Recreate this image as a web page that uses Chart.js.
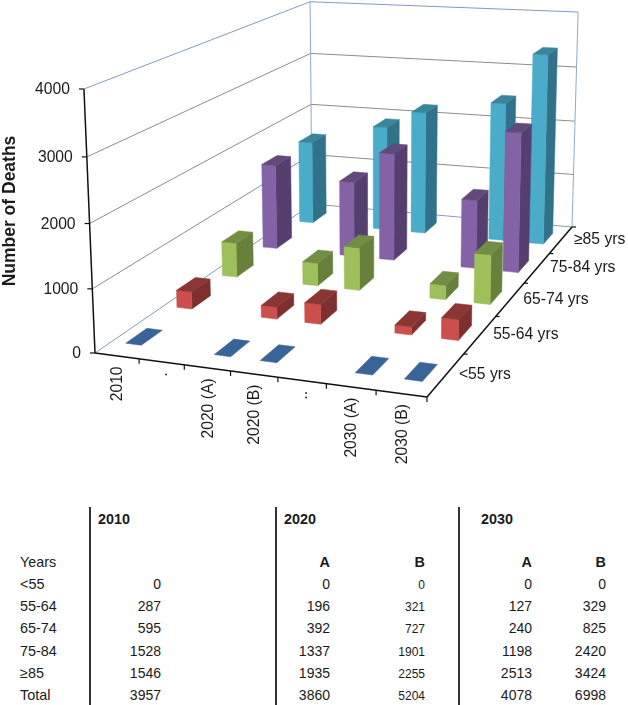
<!DOCTYPE html>
<html>
<head>
<meta charset="utf-8">
<script src="https://cdn.jsdelivr.net/npm/chart.js@4"></script>
<style>
  body { margin: 0; background: #fff; font-family: "Liberation Sans", Arial, sans-serif; color: #1a1a1a; }
  #wrap { position: relative; width: 628px; height: 705px; overflow: hidden; }
  canvas { position: absolute; left: 0; top: 0; }
  .cell { position: absolute; font-size: 14px; line-height: 16px; white-space: nowrap; }
  .rule { position: absolute; top: 507px; width: 2px; height: 198px; background: #333; }
</style>
</head>
<body>
<div id="wrap"><canvas id="myChart" width="628" height="490"></canvas></div>
<script>
// chart data
const categories = ['2010', '.', '2020 (A)', '2020 (B)', '..', '2030 (A)', '2030 (B)'];
const ageGroups = ['<55 yrs', '55-64 yrs', '65-74 yrs', '75-84 yrs', '≥85 yrs'];
const under55 = [0, null, 0, 0, null, 0, 0];
const age55to64 = [287, null, 196, 321, null, 127, 329];
const age65to74 = [595, null, 392, 727, null, 240, 825];
const age75to84 = [1528, null, 1337, 1901, null, 1198, 2420];
const age85plus = [1546, null, 1935, 2255, null, 2513, 3424];
const totals = [3957, null, 3860, 5204, null, 4078, 6998];
const tableRows = ['<55', '55-64', '65-74', '75-84', '≥85', 'Total'];

// front, side, top colours per series
const faceColors = [
  ['#4F81BD', '#2F5280', '#3A6497'],
  ['#CC4F4E', '#7D302E', '#8C3634'],
  ['#9EC05A', '#67803B', '#728E45'],
  ['#8363A5', '#553F6E', '#604A7B'],
  ['#4AACC8', '#31728A', '#38859C']
];

// floor corners and wall height in canvas pixels
const floorFL = [95, 353], floorFR = [427, 397], floorBR = [572, 227], floorBL = [312, 204];
const vanish = [377, 7100];
const topFLy = 89;
const barHalfU = 0.18, barHalfV = 0.2;

// square -> quad homography
const [x0, y0] = floorFL, [x1, y1] = floorFR, [x2, y2] = floorBR, [x3, y3] = floorBL;
const dx1 = x1 - x2, dx2 = x3 - x2, sx = x0 - x1 + x2 - x3;
const dy1 = y1 - y2, dy2 = y3 - y2, sy = y0 - y1 + y2 - y3;
const det = dx1 * dy2 - dx2 * dy1;
const g = (sx * dy2 - dx2 * sy) / det, h = (dx1 * sy - sx * dy1) / det;
const a = x1 - x0 + g * x1, b = x3 - x0 + h * x3;
const d = y1 - y0 + g * y1, e = y3 - y0 + h * y3;
const k = (topFLy - y0) / (vanish[1] - topFLy);

function project(u, v, w) {
  const q = g * u + h * v + 1 + w * k;
  return [
    (a * u + b * v + x0 + w * k * vanish[0]) / q,
    (d * u + e * v + y0 + w * k * vanish[1]) / q
  ];
}

// position on a scale as 0..1
function dec(scale, value) {
  return scale.getDecimalForPixel(scale.getPixelForValue(value));
}

function poly(ctx, pts, color) {
  ctx.beginPath();
  pts.forEach((p, i) => i ? ctx.lineTo(p[0], p[1]) : ctx.moveTo(p[0], p[1]));
  ctx.closePath();
  ctx.fillStyle = color;
  ctx.strokeStyle = color;
  ctx.lineWidth = 0.5;
  ctx.fill();
  ctx.stroke();
}

function line(ctx, p, q, color, width) {
  ctx.beginPath();
  ctx.moveTo(p[0], p[1]);
  ctx.lineTo(q[0], q[1]);
  ctx.strokeStyle = color;
  ctx.lineWidth = width;
  ctx.stroke();
}

const walls3d = {
  id: 'walls3d',
  beforeDatasetsDraw(chart) {
    const { ctx, scales } = chart;
    const yTicks = scales.y.ticks;
    ctx.save();
    // walls and gridlines
    yTicks.forEach((t, i) => {
      const w = dec(scales.y, t.value);
      const last = i === yTicks.length - 1;
      const col = last ? '#7F9CC0' : '#8C8C8C';
      if (i > 0) {
        line(ctx, project(0, 0, w), project(0, 1, w), col, 1);
        line(ctx, project(0, 1, w), project(1, 1, w), col, 1);
      }
    });
    line(ctx, project(0, 0, 0), project(0, 1, 0), '#7F9CC0', 1);
    line(ctx, project(0, 1, 0), project(1, 1, 0), '#8C9DB5', 1);
    line(ctx, project(0, 1, 0), project(0, 1, 1), '#8FAACB', 1);
    line(ctx, project(1, 1, 0), project(1, 1, 1), '#8FAACB', 1);
    ctx.restore();
  },
  afterDatasetsDraw(chart) {
    const { ctx, scales } = chart;
    const { x, y, z } = scales;
    const font = '15.7px "Liberation Sans", Arial, sans-serif';
    ctx.save();
    // bars, back row first
    for (let s = ageGroups.length - 1; s >= 0; s--) {
      const values = chart.data.datasets[s].data;
      const [front, side, top] = faceColors[s];
      values.forEach((value, c) => {
        if (value === null) return;
        const u0 = dec(x, c - barHalfU), u1 = dec(x, c + barHalfU);
        const v0 = dec(z, s - barHalfV), v1 = dec(z, s + barHalfV);
        const w = dec(y, value);
        if (value > 0) {
          poly(ctx, [project(u1, v0, 0), project(u1, v1, 0), project(u1, v1, w), project(u1, v0, w)], side);
          poly(ctx, [project(u0, v0, 0), project(u1, v0, 0), project(u1, v0, w), project(u0, v0, w)], front);
        }
        poly(ctx, [project(u0, v0, w), project(u1, v0, w), project(u1, v1, w), project(u0, v1, w)], top);
      });
    }

    // axes
    line(ctx, project(0, 0, 0), project(0, 0, 1), '#111', 1.5);
    line(ctx, project(0, 0, 0), project(1, 0, 0), '#111', 1.5);
    line(ctx, project(1, 0, 0), project(1, 1, 0), '#111', 1.5);

    ctx.font = font;
    ctx.fillStyle = '#1a1a1a';

    // value axis
    ctx.textAlign = 'right';
    ctx.textBaseline = 'middle';
    y.ticks.forEach(t => {
      const p = project(0, 0, dec(y, t.value));
      line(ctx, [p[0] - 5, p[1]], p, '#111', 1.2);
      ctx.fillText(t.label, p[0] - 14, p[1] + 1);
    });

    // category axis
    x.ticks.forEach(t => {
      const edge = project(dec(x, t.value + 0.5), 0, 0);
      line(ctx, edge, [edge[0], edge[1] + 5], '#111', 1.2);
      const p = project(dec(x, t.value), 0, 0);
      ctx.save();
      ctx.translate(p[0] + 1, p[1] + 10.5);
      ctx.rotate(-Math.PI / 2);
      ctx.fillText(x.getLabelForValue(t.value), 0, 0);
      ctx.restore();
    });

    // depth axis
    ctx.textAlign = 'left';
    z.ticks.forEach(t => {
      const edge = project(1, dec(z, t.value + 0.5), 0);
      line(ctx, edge, [edge[0] + 4, edge[1]], '#111', 1.2);
      const p = project(1, dec(z, t.value), 0);
      ctx.fillText(z.getLabelForValue(t.value), p[0] + 13, p[1]);
    });

    // axis title
    ctx.save();
    ctx.translate(10, 211);
    ctx.rotate(-Math.PI / 2);
    ctx.textAlign = 'center';
    ctx.font = 'bold 17.5px "Liberation Sans", Arial, sans-serif';
    ctx.fillText(y.options.title.text, 0, 0);
    ctx.restore();
    ctx.restore();
  }
};

const seriesValues = [under55, age55to64, age65to74, age75to84, age85plus];

new Chart(document.getElementById('myChart'), {
  type: 'line',
  data: {
    labels: categories,
    datasets: ageGroups.map((name, i) => ({
      label: name,
      data: seriesValues[i],
      showLine: false,
      pointRadius: 0,
      xAxisID: 'x',
      yAxisID: 'y'
    }))
  },
  options: {
    responsive: false,
    animation: false,
    layout: { padding: 0 },
    plugins: { legend: { display: false }, tooltip: { enabled: false } },
    scales: {
      x: { type: 'category', display: false, offset: true, ticks: { autoSkip: false } },
      z: { type: 'category', axis: 'x', position: 'bottom', display: false, offset: true, labels: ageGroups, ticks: { autoSkip: false } },
      y: { display: false, min: 0, max: 4000, ticks: { stepSize: 1000, callback: v => String(v) }, title: { text: 'Number of Deaths' } }
    }
  },
  plugins: [walls3d]
});

// table below the chart
const wrap = document.getElementById('wrap');
function cell(text, left, right, cy, extra) {
  const el = document.createElement('div');
  el.className = 'cell';
  el.textContent = text;
  el.style.top = (cy - 8) + 'px';
  if (left !== null) el.style.left = left + 'px';
  else el.style.right = (628 - right) + 'px';
  if (extra) Object.assign(el.style, extra);
  wrap.appendChild(el);
}
[89, 275, 458].forEach(x => {
  const r = document.createElement('div');
  r.className = 'rule';
  r.style.left = x + 'px';
  wrap.appendChild(r);
});

const bold = { fontWeight: 'bold', fontSize: '14.4px' };
const rowY = [584, 606, 628, 651, 673, 695];
const columnRight = { 0: 161, 2: 330, 3: 425, 5: 532, 6: 606 };
const tableCols = [under55, age55to64, age65to74, age75to84, age85plus, totals];

cell('2010', 98, null, 519, bold);
cell('2020', 284, null, 519, bold);
cell('2030', 481, null, 519, bold);
cell('Years', 20, null, 562, { fontSize: '14.4px' });
cell('A', null, columnRight[2], 562, bold);
cell('B', null, columnRight[3], 562, bold);
cell('A', null, columnRight[5], 562, bold);
cell('B', null, columnRight[6], 562, bold);

tableRows.forEach((name, r) => {
  cell(name, 20, null, rowY[r], { fontSize: '14.4px' });
  Object.keys(columnRight).forEach(c => {
    const small = Number(c) === 3 ? { fontSize: '12px', marginTop: '1px' } : null;
    cell(String(tableCols[r][c]), null, columnRight[c], rowY[r], small);
  });
});
</script>
</body>
</html>
